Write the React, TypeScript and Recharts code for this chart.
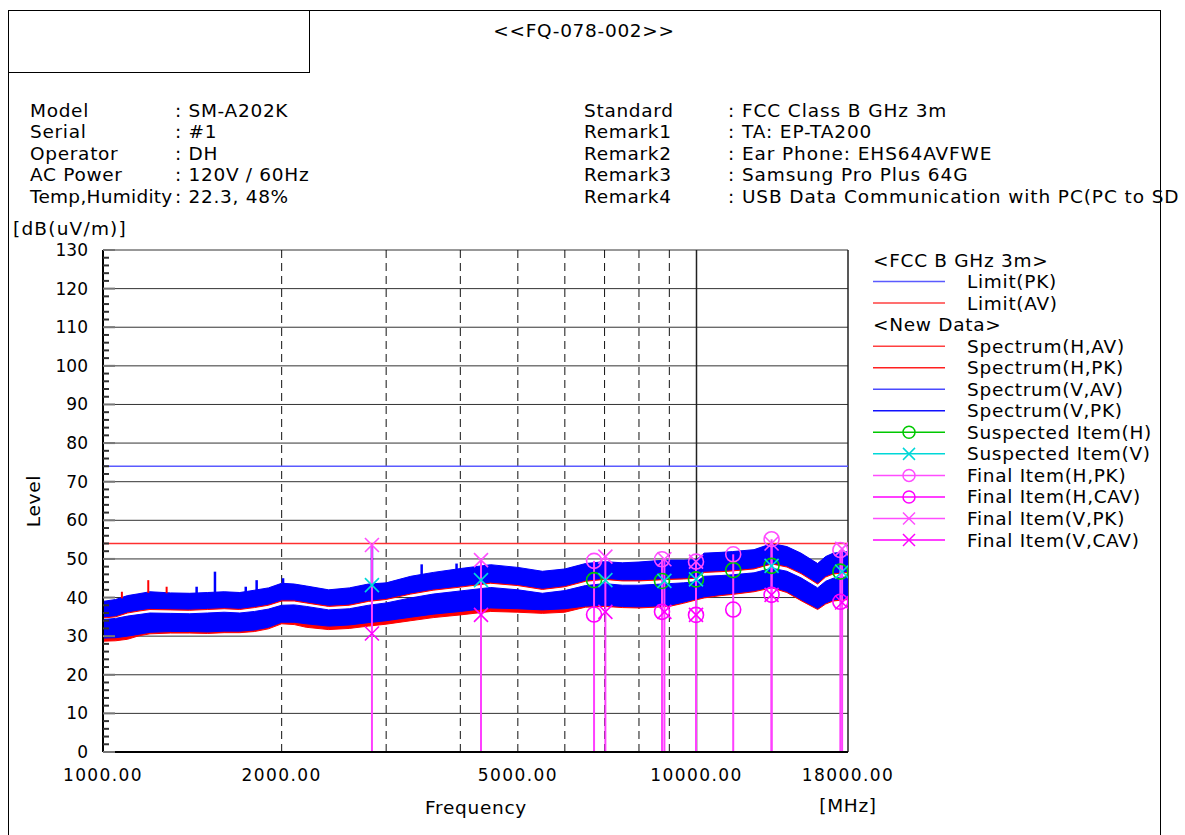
import React from "react";
import {
  ComposedChart,
  Area,
  Scatter,
  XAxis,
  YAxis,
  CartesianGrid,
  ReferenceLine,
} from "recharts";

// band edges of the four spectrum traces (dB(uV/m))
const FREQ = [1000, 1050, 1100, 1150, 1200, 1300, 1400, 1500, 1600, 1700, 1800, 1900, 2000, 2100, 2200, 2400, 2600, 2800, 3000, 3300, 3600, 4000, 4500, 5000, 5500, 6000, 6500, 7000, 7500, 8000, 8500, 9000, 9500, 10000, 10300, 11000, 11500, 12500, 13400, 14200, 15000, 16000, 16500, 17000, 18000];

const V_PK_HI = [39.0, 39.5, 40.5, 41.0, 41.5, 41.2, 41.1, 41.3, 41.5, 41.3, 41.9, 42.5, 43.7, 43.5, 43.0, 42.0, 42.5, 43.5, 43.8, 45.5, 46.5, 47.5, 48.5, 47.8, 46.8, 47.4, 48.8, 49.3, 49.0, 49.2, 49.5, 49.7, 49.7, 49.8, 51.5, 51.7, 51.9, 52.4, 54.0, 53.2, 51.5, 48.8, 50.6, 51.5, 51.9];
const V_PK_LO = [35.0, 35.3, 36.3, 36.8, 37.2, 37.1, 37.0, 37.2, 37.4, 37.2, 37.7, 38.3, 39.4, 39.4, 38.9, 38.0, 38.3, 39.3, 39.8, 41.2, 42.2, 43.0, 44.0, 43.4, 42.4, 43.1, 44.5, 45.0, 44.6, 44.6, 44.8, 45.0, 45.1, 45.3, 46.8, 47.0, 47.2, 47.7, 49.0, 48.2, 46.5, 43.8, 45.6, 46.4, 46.8];
const V_AV_HI = [34.3, 34.6, 35.2, 35.6, 36.0, 35.9, 35.8, 36.0, 36.2, 36.0, 36.4, 37.0, 38.0, 38.1, 37.7, 36.8, 37.1, 38.0, 38.6, 39.9, 40.9, 41.7, 42.6, 42.0, 41.1, 41.8, 43.1, 43.6, 43.2, 43.2, 43.4, 43.6, 43.8, 44.1, 45.5, 45.7, 45.9, 46.4, 47.6, 46.8, 45.1, 42.5, 44.2, 45.0, 45.4];
const V_AV_LO = [29.5, 29.6, 30.0, 30.5, 31.0, 31.2, 31.2, 31.1, 31.3, 31.3, 31.6, 32.3, 33.6, 33.6, 33.2, 32.6, 32.9, 33.5, 34.0, 34.9, 35.7, 36.4, 37.3, 37.1, 36.8, 37.1, 37.8, 38.0, 37.7, 37.6, 37.8, 38.0, 38.8, 39.7, 40.2, 40.8, 41.1, 41.8, 42.8, 41.6, 39.5, 37.2, 38.6, 39.4, 39.8];

const H_PK_HI = [38.8, 39.3, 40.3, 40.8, 41.3, 41.0, 40.9, 41.1, 41.3, 41.1, 41.7, 42.3, 43.5, 43.3, 42.8, 41.8, 42.3, 43.3, 43.6, 45.2, 46.2, 47.1, 48.1, 47.5, 46.6, 47.2, 48.6, 49.1, 48.8, 49.0, 49.3, 49.5, 49.5, 49.6, 51.3, 51.5, 51.7, 52.2, 53.8, 53.0, 51.3, 48.7, 50.4, 51.3, 51.7];
const H_PK_LO = [34.7, 35.0, 36.0, 36.5, 36.9, 36.8, 36.7, 36.9, 37.1, 36.9, 37.4, 38.0, 39.1, 39.1, 38.6, 37.7, 38.0, 39.0, 39.5, 40.9, 41.9, 42.7, 43.7, 43.1, 42.1, 42.8, 44.2, 44.7, 44.3, 44.3, 44.5, 44.7, 44.8, 45.0, 46.5, 46.7, 46.9, 47.4, 48.7, 47.9, 46.2, 43.5, 45.3, 46.1, 46.5];
const H_AV_HI = [34.0, 34.3, 34.9, 35.3, 35.7, 35.6, 35.5, 35.7, 35.9, 35.7, 36.1, 36.7, 37.7, 37.8, 37.4, 36.5, 36.8, 37.7, 38.3, 39.6, 40.6, 41.4, 42.3, 41.7, 40.8, 41.5, 42.8, 43.3, 42.9, 42.9, 43.1, 43.3, 43.5, 43.8, 45.2, 45.4, 45.6, 46.1, 47.3, 46.5, 44.8, 42.2, 43.9, 44.7, 45.1];
const H_AV_LO = [28.7, 28.8, 29.2, 30.1, 30.6, 30.8, 30.8, 30.7, 30.9, 30.9, 31.2, 31.9, 33.2, 33.0, 32.3, 31.7, 32.0, 32.6, 33.1, 34.0, 34.8, 35.5, 36.4, 36.2, 35.9, 36.2, 37.5, 37.7, 37.4, 37.3, 37.5, 37.7, 38.5, 39.4, 39.9, 40.5, 40.8, 41.5, 42.5, 41.3, 39.2, 36.9, 38.3, 39.1, 39.5];

// isolated spikes sticking out of the bands
const V_SPIKES = [
  { f: 1438, lo: 41.0, hi: 42.8 },
  { f: 1544, lo: 41.3, hi: 46.7 },
  { f: 1740, lo: 41.3, hi: 42.8 },
  { f: 1815, lo: 41.9, hi: 44.5 },
  { f: 2011, lo: 43.5, hi: 45.0 },
  { f: 2839, lo: 43.5, hi: 53.3 },
  { f: 3443, lo: 45.8, hi: 48.6 },
  { f: 3942, lo: 47.3, hi: 48.8 },
];
const H_SPIKES = [
  { f: 1076, lo: 39.8, hi: 41.5 },
  { f: 1192, lo: 41.2, hi: 44.5 },
  { f: 1280, lo: 41.1, hi: 42.8 },
];

const LIMIT_PK = 74;
const LIMIT_AV = 54;

const SUSPECTED_H = [
  { f: 6720, v: 44.5 }, { f: 8747, v: 44.3 }, { f: 9981, v: 44.7 },
  { f: 11531, v: 47.1 }, { f: 13381, v: 48.2 }, { f: 17474, v: 46.7 },
];
const SUSPECTED_V = [
  { f: 2839, v: 43.2 }, { f: 4334, v: 44.5 }, { f: 7022, v: 44.5 }, { f: 8829, v: 44.3 },
  { f: 9981, v: 44.7 }, { f: 13381, v: 48.2 }, { f: 17594, v: 46.7 },
];
const FINAL_H_PK = [
  { f: 6720, v: 49.5 }, { f: 8747, v: 49.9 }, { f: 9981, v: 49.3 },
  { f: 11531, v: 51.2 }, { f: 13381, v: 55.1 }, { f: 17474, v: 52.3 },
];
const FINAL_H_CAV = [
  { f: 6720, v: 35.6 }, { f: 8747, v: 36.3 }, { f: 9981, v: 35.5 },
  { f: 11531, v: 36.9 }, { f: 13381, v: 40.7 }, { f: 17474, v: 38.9 },
];
const FINAL_V_PK = [
  { f: 2839, v: 53.6 }, { f: 4334, v: 49.7 }, { f: 7022, v: 50.6 }, { f: 8829, v: 49.9 },
  { f: 9981, v: 49.3 }, { f: 13381, v: 54.0 }, { f: 17594, v: 52.6 },
];
const FINAL_V_CAV = [
  { f: 2839, v: 30.7 }, { f: 4334, v: 35.5 }, { f: 7022, v: 36.3 }, { f: 8829, v: 36.3 },
  { f: 9981, v: 35.5 }, { f: 13381, v: 40.7 }, { f: 17594, v: 38.7 },
];

const X_TICKS = [1000, 2000, 5000, 10000, 18000];
const Y_TICKS = Array.from({ length: 66 }, (_, i) => i * 2);
const H_GRID = [10, 20, 30, 40, 50, 60, 70, 80, 90, 100, 110, 120, 130];
const V_GRID_DASHED = [2000, 3000, 4000, 5000, 6000, 7000, 8000, 9000];
const V_GRID_SOLID = [10000, 18000];

const TITLE = "<<FQ-078-002>>";
const INFO_LEFT = [
  ["Model", ": SM-A202K"],
  ["Serial", ": #1"],
  ["Operator", ": DH"],
  ["AC Power", ": 120V / 60Hz"],
  ["Temp,Humidity", ": 22.3, 48%"],
];
const INFO_RIGHT = [
  ["Standard", ": FCC Class B GHz 3m"],
  ["Remark1", ": TA: EP-TA200"],
  ["Remark2", ": Ear Phone: EHS64AVFWE"],
  ["Remark3", ": Samsung Pro Plus 64G"],
  ["Remark4", ": USB Data Communication with PC(PC to SD"],
];

const RED = "#ff0000";
const BLUE = "#0000ff";
const GREEN = "#00c800";
const CYAN = "#00d8d8";
const MAG_PK = "#ff4dff";
const MAG_CAV = "#ff00ff";

const LEGEND = [
  { label: "<FCC B GHz 3m>" },
  { label: "Limit(PK)", color: "#5a5aff" },
  { label: "Limit(AV)", color: "#ff4040" },
  { label: "<New Data>" },
  { label: "Spectrum(H,AV)", color: "#ff4040" },
  { label: "Spectrum(H,PK)", color: "#ff2020" },
  { label: "Spectrum(V,AV)", color: "#4a4aff" },
  { label: "Spectrum(V,PK)", color: "#1010ff" },
  { label: "Suspected Item(H)", color: GREEN, marker: "o" },
  { label: "Suspected Item(V)", color: CYAN, marker: "x" },
  { label: "Final Item(H,PK)", color: MAG_PK, marker: "o" },
  { label: "Final Item(H,CAV)", color: MAG_CAV, marker: "o" },
  { label: "Final Item(V,PK)", color: MAG_PK, marker: "x" },
  { label: "Final Item(V,CAV)", color: MAG_CAV, marker: "x" },
];

const W = 1185;
const H = 835;
const PLOT = { left: 103, top: 250, right: 848, bottom: 752 };
const FONT = '"DejaVu Sans", sans-serif';
const FS = 18.5;
const LS = 0.7;

const rows = FREQ.map((f, i) => ({
  f,
  hAv: [H_AV_LO[i], H_AV_HI[i]],
  hPk: [H_PK_LO[i], H_PK_HI[i]],
  vAv: [V_AV_LO[i], V_AV_HI[i]],
  vPk: [V_PK_LO[i], V_PK_HI[i]],
}));

const circle = (color: string) => (p: any) =>
  <circle cx={p.cx} cy={p.cy} r={7.5} fill="none" stroke={color} strokeWidth={1.6} />;

const cross = (color: string) => (p: any) => (
  <g stroke={color} strokeWidth={1.6}>
    <line x1={p.cx - 7} y1={p.cy - 7} x2={p.cx + 7} y2={p.cy + 7} />
    <line x1={p.cx - 7} y1={p.cy + 7} x2={p.cx + 7} y2={p.cy - 7} />
  </g>
);

const YTick = (props: any) => {
  const { x, y, payload } = props;
  const v = payload.value;
  const major = v % 10 === 0;
  return (
    <g>
      <line x1={PLOT.left} x2={PLOT.left + (major ? 12 : 6)} y1={y} y2={y} stroke={major ? "#777" : "#333"} strokeWidth={2} />
      {major && (
        <text x={x} y={y} dy="0.355em" textAnchor="end" fontSize={17} fontFamily={FONT} fill="#000">
          {v}
        </text>
      )}
    </g>
  );
};

const Overlay = () => (
  <svg width={W} height={H} style={{ position: "absolute", left: 0, top: 0, pointerEvents: "none" }} fontFamily={FONT} fontSize={FS} letterSpacing={LS} fill="#000">
    <line x1={8.5} y1={10.5} x2={1160.5} y2={10.5} stroke="#000" />
    <line x1={8.5} y1={10} x2={8.5} y2={H} stroke="#000" />
    <line x1={1160.5} y1={10} x2={1160.5} y2={H} stroke="#000" />
    <rect x={8.5} y={10.5} width={301} height={62} fill="none" stroke="#000" />
    <text x={584} y={30} textAnchor="middle" dominantBaseline="central">{TITLE}</text>
    {INFO_LEFT.map(([k, v], i) => (
      <g key={k}>
        <text x={30} y={110 + i * 21.5} dominantBaseline="central" textLength={k.length > 10 ? 143 : undefined}>{k}</text>
        <text x={175} y={110 + i * 21.5} dominantBaseline="central">{v}</text>
      </g>
    ))}
    {INFO_RIGHT.map(([k, v], i) => (
      <g key={k}>
        <text x={584} y={110 + i * 21.5} dominantBaseline="central">{k}</text>
        <text x={728} y={110 + i * 21.5} dominantBaseline="central" letterSpacing={0.9}>{v}</text>
      </g>
    ))}
    <text x={13} y={228} dominantBaseline="central" letterSpacing={1.2}>[dB(uV/m)]</text>
    <text x={33} y={501} textAnchor="middle" dominantBaseline="central" transform="rotate(-90 33 501)">Level</text>
    <text x={476} y={807} textAnchor="middle" dominantBaseline="central">Frequency</text>
    <text x={848} y={805} textAnchor="middle" dominantBaseline="central">[MHz]</text>
    {LEGEND.map((it, i) => {
      const y = 260 + i * 21.54;
      if (!it.color) {
        return <text key={it.label} x={873} y={y} dominantBaseline="central">{it.label}</text>;
      }
      return (
        <g key={it.label}>
          <line x1={873} x2={945} y1={y} y2={y} stroke={it.color} strokeWidth={1.5} />
          {it.marker === "o" && <circle cx={909} cy={y} r={6} fill="none" stroke={it.color} strokeWidth={1.5} />}
          {it.marker === "x" && (
            <g stroke={it.color} strokeWidth={1.5}>
              <line x1={903} y1={y - 6} x2={915} y2={y + 6} />
              <line x1={903} y1={y + 6} x2={915} y2={y - 6} />
            </g>
          )}
          <text x={967} y={y} dominantBaseline="central">{it.label}</text>
        </g>
      );
    })}
  </svg>
);

export default function App() {
  return (
    <div style={{ position: "absolute", left: 0, top: 0, width: W, height: H, background: "#fff" }}>
      <div style={{ position: "absolute", left: 0, top: 0 }}>
        <ComposedChart
          width={W}
          height={H}
          margin={{ top: PLOT.top, left: PLOT.left - 60, right: W - PLOT.right, bottom: H - PLOT.bottom - 30 }}
        >
          <CartesianGrid vertical={false} horizontalValues={H_GRID} stroke="#333" />
          <CartesianGrid horizontal={false} verticalValues={V_GRID_DASHED} stroke="#111" strokeDasharray="8 5" />
          <CartesianGrid horizontal={false} verticalValues={V_GRID_SOLID} stroke="#222" strokeWidth={1.5} />
          <XAxis
            type="number"
            dataKey="f"
            scale="log"
            domain={[1000, 18000]}
            allowDataOverflow
            ticks={X_TICKS}
            interval={0}
            height={30}
            tickLine={false}
            tickSize={0}
            tickMargin={17}
            tickFormatter={(v: number) => v.toFixed(2)}
            axisLine={{ stroke: "#000", strokeWidth: 2 }}
            tick={{ fill: "#000", fontSize: 17, fontFamily: FONT, letterSpacing: 1.4 }}
          />
          <YAxis
            type="number"
            domain={[0, 130]}
            ticks={Y_TICKS}
            interval={0}
            width={60}
            tickLine={false}
            tickSize={0}
            tickMargin={15}
            axisLine={{ stroke: "#000", strokeWidth: 2 }}
            tick={(p: any) => <YTick {...p} />}
          />
          <Area data={rows} dataKey="hAv" type="linear" fill={RED} fillOpacity={1} stroke={RED} strokeWidth={1} dot={false} activeDot={false} isAnimationActive={false} />
          <Area data={rows} dataKey="hPk" type="linear" fill={RED} fillOpacity={1} stroke={RED} strokeWidth={1} dot={false} activeDot={false} isAnimationActive={false} />
          <Area data={rows} dataKey="vAv" type="linear" fill={BLUE} fillOpacity={1} stroke={BLUE} strokeWidth={1} dot={false} activeDot={false} isAnimationActive={false} />
          <Area data={rows} dataKey="vPk" type="linear" fill={BLUE} fillOpacity={1} stroke={BLUE} strokeWidth={1} dot={false} activeDot={false} isAnimationActive={false} />
          {H_SPIKES.map((s) => (
            <ReferenceLine key={`h${s.f}`} segment={[{ x: s.f, y: s.lo }, { x: s.f, y: s.hi }]} stroke={RED} strokeWidth={2} ifOverflow="visible" />
          ))}
          {V_SPIKES.map((s) => (
            <ReferenceLine key={`v${s.f}`} segment={[{ x: s.f, y: s.lo }, { x: s.f, y: s.hi }]} stroke={BLUE} strokeWidth={2.5} ifOverflow="visible" />
          ))}
          <ReferenceLine y={LIMIT_PK} stroke="#5a5aff" strokeWidth={1.5} />
          <ReferenceLine y={LIMIT_AV} stroke="#ff3030" strokeWidth={1.5} />
          {[...FINAL_H_PK, ...FINAL_V_PK].map((p, i) => (
            <ReferenceLine key={`s${i}`} segment={[{ x: p.f, y: 0 }, { x: p.f, y: p.v }]} stroke="#ff40ff" strokeWidth={2} ifOverflow="visible" />
          ))}
          <Scatter data={SUSPECTED_H} dataKey="v" shape={circle(GREEN)} isAnimationActive={false} />
          <Scatter data={SUSPECTED_V} dataKey="v" shape={cross(CYAN)} isAnimationActive={false} />
          <Scatter data={FINAL_H_PK} dataKey="v" shape={circle(MAG_PK)} isAnimationActive={false} />
          <Scatter data={FINAL_H_CAV} dataKey="v" shape={circle(MAG_CAV)} isAnimationActive={false} />
          <Scatter data={FINAL_V_PK} dataKey="v" shape={cross(MAG_PK)} isAnimationActive={false} />
          <Scatter data={FINAL_V_CAV} dataKey="v" shape={cross(MAG_CAV)} isAnimationActive={false} />
        </ComposedChart>
      </div>
      <Overlay />
    </div>
  );
}
